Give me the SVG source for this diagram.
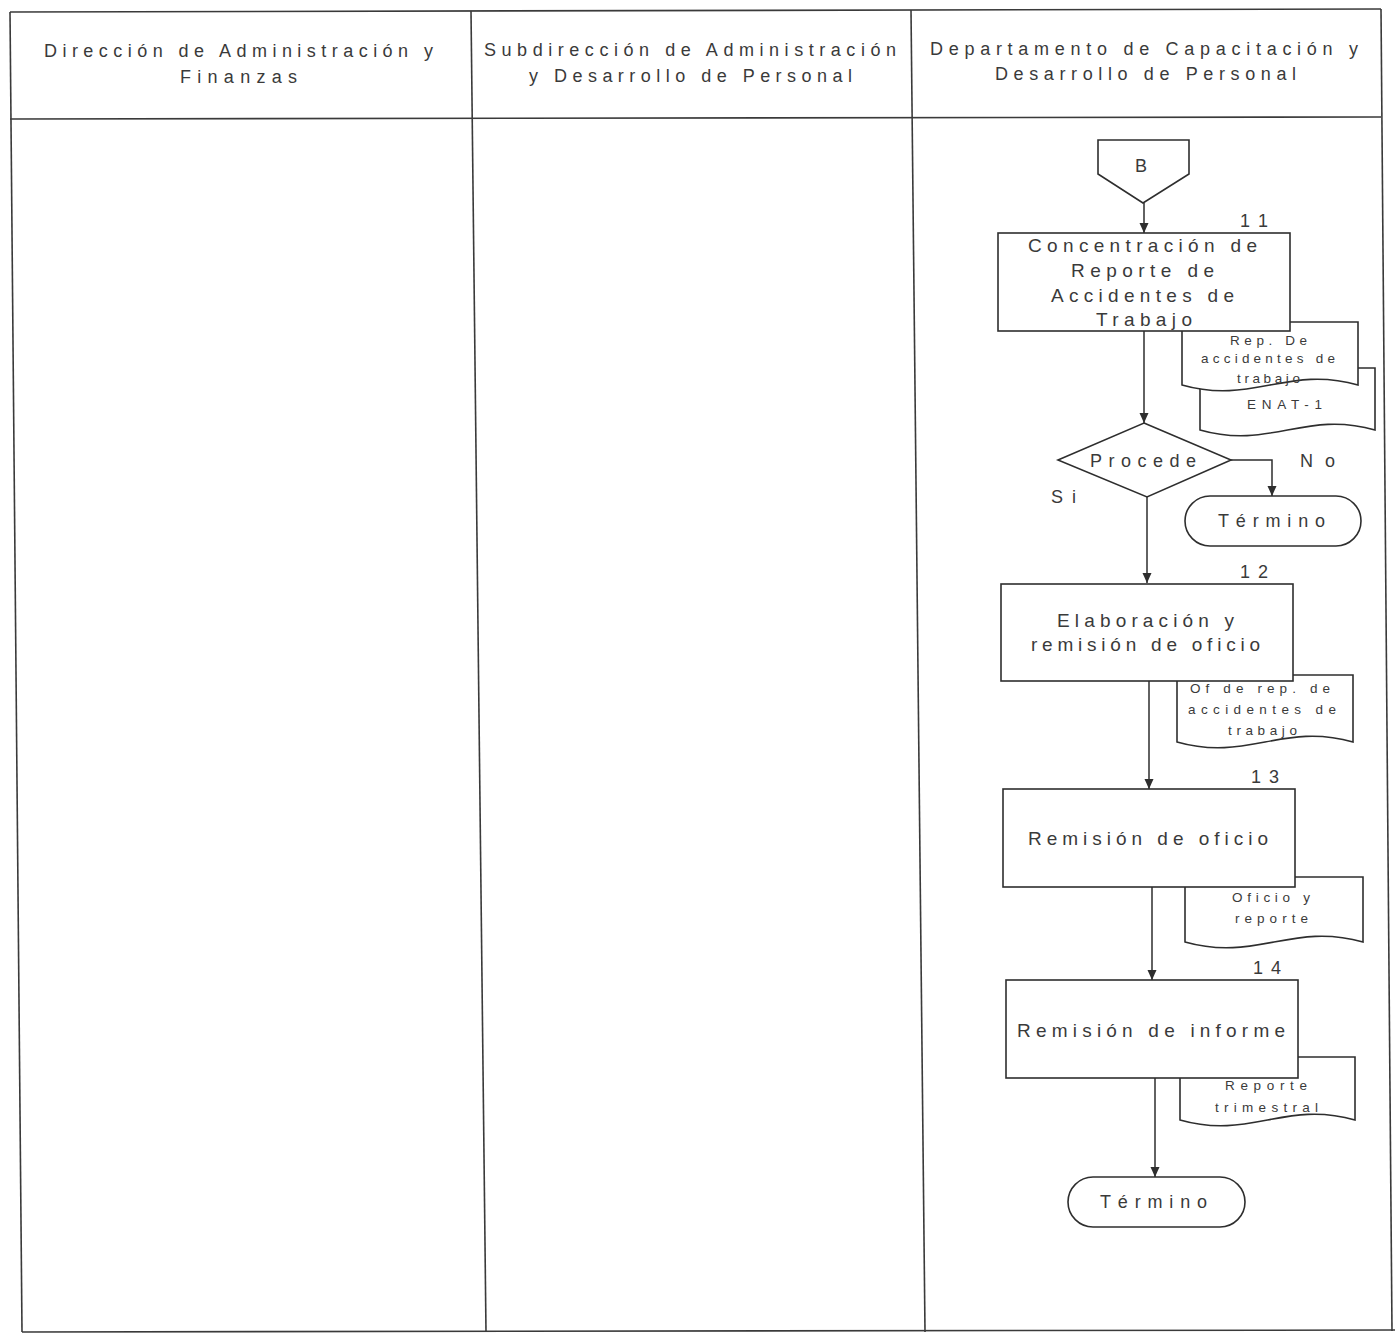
<svg xmlns="http://www.w3.org/2000/svg" width="1397" height="1334" viewBox="0 0 1397 1334">
<style>
.grid{stroke:#3a3a3a;stroke-width:1.6;fill:none}
.shape{fill:#fff;stroke:#2e2e2e;stroke-width:1.6}
.conn{stroke:#2e2e2e;stroke-width:1.5;fill:none}
text{font-family:"Liberation Sans",Arial,sans-serif;fill:#3a3a3a}
.hd{font-size:18px}
.bx{font-size:19px}
.dc{font-size:13.5px}
.num{font-size:18px}
.lb{font-size:18px}
</style>
<defs>
<marker id="arr" markerWidth="11" markerHeight="11" refX="10" refY="5.5" orient="auto" markerUnits="userSpaceOnUse">
<path d="M0,1 L10,5.5 L0,10 Z" fill="#2e2e2e"/>
</marker>
</defs>
<rect x="0" y="0" width="1397" height="1334" fill="#fff"/>
<g id="grid">
<line class="grid" x1="10" y1="12" x2="1381" y2="9"/>
<line class="grid" x1="10" y1="119" x2="1381" y2="117"/>
<line class="grid" x1="10" y1="12" x2="22" y2="1332"/>
<line class="grid" x1="471" y1="11" x2="486" y2="1332"/>
<line class="grid" x1="911" y1="10" x2="925" y2="1332"/>
<line class="grid" x1="1381" y1="9" x2="1392" y2="1331"/>
<line class="grid" x1="22" y1="1332" x2="1395" y2="1330"/>
</g>
<g id="headers">
<text class="hd" x="44" y="57" textLength="389" lengthAdjust="spacing">Dirección de Administración y</text>
<text class="hd" x="180" y="83" textLength="117" lengthAdjust="spacing">Finanzas</text>
<text class="hd" x="484" y="56" textLength="412" lengthAdjust="spacing">Subdirección de Administración</text>
<text class="hd" x="529" y="82" textLength="323" lengthAdjust="spacing">y Desarrollo de Personal</text>
<text class="hd" x="930" y="55" textLength="428" lengthAdjust="spacing">Departamento de Capacitación y</text>
<text class="hd" x="995" y="80" textLength="301" lengthAdjust="spacing">Desarrollo de Personal</text>
</g>
<g id="connectors">
<line class="conn" x1="1144" y1="203" x2="1144" y2="233" marker-end="url(#arr)"/>
<line class="conn" x1="1144" y1="331" x2="1144" y2="423" marker-end="url(#arr)"/>
<line class="conn" x1="1147" y1="497" x2="1147" y2="583" marker-end="url(#arr)"/>
<polyline class="conn" points="1230,460 1272,460 1272,496" marker-end="url(#arr)"/>
<line class="conn" x1="1149" y1="681" x2="1149" y2="789" marker-end="url(#arr)"/>
<line class="conn" x1="1152" y1="887" x2="1152" y2="980" marker-end="url(#arr)"/>
<line class="conn" x1="1155" y1="1078" x2="1155" y2="1177" marker-end="url(#arr)"/>
</g>
<g id="labels">
<text class="lb" x="1300" y="467" textLength="35" lengthAdjust="spacing">No</text>
<text class="lb" x="1051" y="503" textLength="25" lengthAdjust="spacing">Si</text>
</g>
<g id="doc-enat">
<path class="shape" d="M1200,368 H1375 V430 C1305,410 1270,450 1200,430 Z"/>
<text class="dc" x="1247" y="409" textLength="75" lengthAdjust="spacing">ENAT-1</text>
</g>
<g id="doc-rep">
<path class="shape" d="M1182,322 H1358 V385 C1288,365 1252,405 1182,385 Z"/>
<text class="dc" x="1230" y="345" textLength="77" lengthAdjust="spacing">Rep. De</text>
<text class="dc" x="1201" y="363" textLength="134" lengthAdjust="spacing">accidentes de</text>
<text class="dc" x="1237" y="383" textLength="63" lengthAdjust="spacing">trabajo</text>
</g>
<g id="doc-of">
<path class="shape" d="M1177,675 H1353 V742 C1283,722 1247,762 1177,742 Z"/>
<text class="dc" x="1190" y="693" textLength="140" lengthAdjust="spacing">Of de rep. de</text>
<text class="dc" x="1188" y="714" textLength="148" lengthAdjust="spacing">accidentes de</text>
<text class="dc" x="1228" y="735" textLength="69" lengthAdjust="spacing">trabajo</text>
</g>
<g id="doc-oficio">
<path class="shape" d="M1185,877 H1363 V942 C1292,922 1256,962 1185,942 Z"/>
<text class="dc" x="1232" y="902" textLength="78" lengthAdjust="spacing">Oficio y</text>
<text class="dc" x="1235" y="923" textLength="73" lengthAdjust="spacing">reporte</text>
</g>
<g id="doc-trim">
<path class="shape" d="M1180,1057 H1355 V1120 C1285,1100 1250,1140 1180,1120 Z"/>
<text class="dc" x="1225" y="1090" textLength="82" lengthAdjust="spacing">Reporte</text>
<text class="dc" x="1215" y="1112" textLength="103" lengthAdjust="spacing">trimestral</text>
</g>
<g id="connector-B">
<path class="shape" d="M1098,140 H1189 V174 L1143,203 L1098,174 Z"/>
<text class="lb" x="1135" y="172" textLength="14" lengthAdjust="spacing">B</text>
</g>
<g id="step-11">
<rect class="shape" x="998" y="233" width="292" height="98"/>
<text class="num" x="1240" y="227" textLength="28" lengthAdjust="spacing">11</text>
<text class="bx" x="1028" y="252" textLength="229" lengthAdjust="spacing">Concentración de</text>
<text class="bx" x="1071" y="277" textLength="143" lengthAdjust="spacing">Reporte de</text>
<text class="bx" x="1051" y="302" textLength="183" lengthAdjust="spacing">Accidentes de</text>
<text class="bx" x="1096" y="326" textLength="96" lengthAdjust="spacing">Trabajo</text>
</g>
<g id="decision-procede">
<path class="shape" d="M1144,423 L1231,460 L1147,497 L1058,460 Z"/>
<text class="lb" x="1090" y="467" textLength="106" lengthAdjust="spacing">Procede</text>
</g>
<g id="end-1">
<rect class="shape" x="1185" y="496" width="176" height="50" rx="25" ry="25"/>
<text class="lb" x="1218" y="527" textLength="107" lengthAdjust="spacing">Término</text>
</g>
<g id="step-12">
<rect class="shape" x="1001" y="584" width="292" height="97"/>
<text class="num" x="1240" y="578" textLength="28" lengthAdjust="spacing">12</text>
<text class="bx" x="1057" y="627" textLength="177" lengthAdjust="spacing">Elaboración y</text>
<text class="bx" x="1031" y="651" textLength="229" lengthAdjust="spacing">remisión de oficio</text>
</g>
<g id="step-13">
<rect class="shape" x="1003" y="789" width="292" height="98"/>
<text class="num" x="1251" y="783" textLength="28" lengthAdjust="spacing">13</text>
<text class="bx" x="1028" y="845" textLength="240" lengthAdjust="spacing">Remisión de oficio</text>
</g>
<g id="step-14">
<rect class="shape" x="1006" y="980" width="292" height="98"/>
<text class="num" x="1253" y="974" textLength="28" lengthAdjust="spacing">14</text>
<text class="bx" x="1017" y="1037" textLength="268" lengthAdjust="spacing">Remisión de informe</text>
</g>
<g id="end-2">
<rect class="shape" x="1068" y="1177" width="177" height="50" rx="25" ry="25"/>
<text class="lb" x="1100" y="1208" textLength="107" lengthAdjust="spacing">Término</text>
</g>
</svg>
